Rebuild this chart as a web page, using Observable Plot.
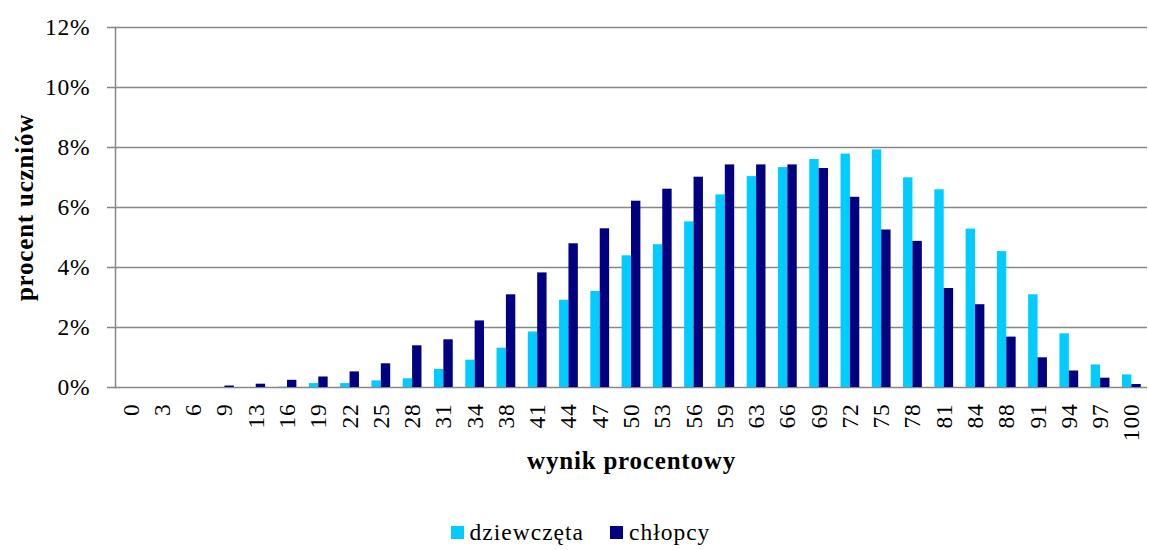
<!DOCTYPE html>
<html>
<head>
<meta charset="utf-8">
<script src="https://cdn.jsdelivr.net/npm/d3@7"></script>
<script src="https://cdn.jsdelivr.net/npm/@observablehq/plot@0.6"></script>
<style>
  body { margin: 0; background: #fff; }
  #legend { display: flex; justify-content: center; align-items: center; height: 35px;
    font-family: "Liberation Serif", "Times New Roman", serif; font-size: 23.5px; letter-spacing: 1px;
    padding-left: 12px; }
  .sw { width: 13px; height: 13px; display: inline-block; margin-right: 6px; }
  .item { display: flex; align-items: center; margin: 0 13px; }
</style>
</head>
<body>
<div id="chart"></div>
<div id="legend"></div>
<script>
const scores = ["0","3","6","9","13","16","19","22","25","28","31","34","38","41","44","47","50","53","56","59","63","66","69","72","75","78","81","84","88","91","94","97","100"];
const girls = [0,0,0,0,0,0.01,0.13,0.13,0.22,0.29,0.6,0.91,1.31,1.85,2.91,3.2,4.39,4.76,5.52,6.42,7.03,7.33,7.6,7.78,7.92,6.99,6.59,5.28,4.53,3.09,1.79,0.75,0.42];
const boys = [0,0,0,0.05,0.11,0.24,0.35,0.52,0.79,1.39,1.59,2.22,3.09,3.82,4.79,5.29,6.21,6.61,7.01,7.42,7.42,7.42,7.3,6.34,5.25,4.87,3.3,2.76,1.68,0.99,0.55,0.31,0.1];
const yTicks = [0, 0.02, 0.04, 0.06, 0.08, 0.10, 0.12];
const seriesNames = ["dziewczęta", "chłopcy"];
const seriesColors = ["#00CCFF", "#000080"];

const girlsData = scores.map((s, i) => ({score: s, value: girls[i] / 100}));
const boysData = scores.map((s, i) => ({score: s, value: boys[i] / 100}));

const W = 1149, H = 515, mL = 115, mR = 2;
const step = (W - mL - mR) / scores.length;
const half = step * 0.6 / 2;

const chart = Plot.plot({
  width: W, height: H,
  marginLeft: mL, marginRight: mR, marginTop: 27, marginBottom: H - 387,
  style: {fontFamily: "'Liberation Serif', 'Times New Roman', serif", fontSize: "23.5px", letterSpacing: "0.8px", color: "#000", background: "#fff"},
  x: {domain: scores, paddingInner: 0.4, paddingOuter: 0.2, round: false, tickRotate: -90, tickSize: 0, tickPadding: 16, label: null},
  y: {domain: [0, 0.12], ticks: yTicks, tickFormat: d3.format(".0%"), tickSize: 0, tickPadding: 25, label: null},
  marks: [
    Plot.ruleY(yTicks, {stroke: "#878787", strokeWidth: 1.5, insetLeft: -8}),
    Plot.frame({anchor: "left", stroke: "#878787", strokeWidth: 1.5}),
    Plot.barY(girlsData, {x: "score", y: "value", fill: seriesColors[0], insetRight: half}),
    Plot.barY(boysData, {x: "score", y: "value", fill: seriesColors[1], insetLeft: half}),
    Plot.text(["wynik procentowy"], {frameAnchor: "bottom", dy: 81, fontWeight: "bold", fontSize: 25, letterSpacing: "0.4px"}),
    Plot.text(["procent uczniów"], {frameAnchor: "left", textAnchor: "middle", dx: -91, rotate: -90, fontWeight: "bold", fontSize: 25, letterSpacing: "0.4px"})
  ]
});
document.getElementById("chart").appendChild(chart);

const legend = document.getElementById("legend");
seriesNames.forEach((n, i) => {
  const it = document.createElement("span");
  it.className = "item";
  const sw = document.createElement("span");
  sw.className = "sw";
  sw.style.background = seriesColors[i];
  it.appendChild(sw);
  it.appendChild(document.createTextNode(n));
  legend.appendChild(it);
});
</script>
</body>
</html>
